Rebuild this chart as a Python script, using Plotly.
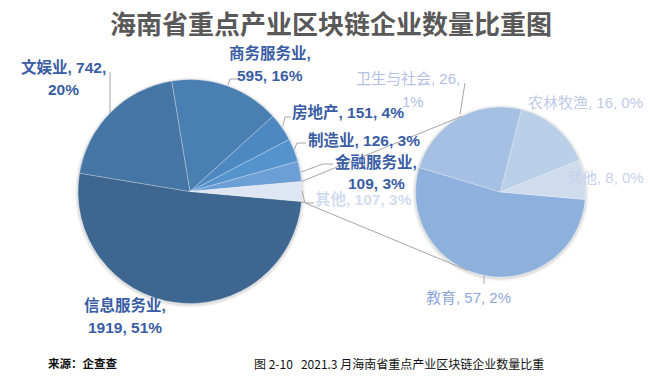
import math
import plotly.graph_objects as go

W, H = 648, 379

# ---- data ----
main_labels = ["信息服务业", "文娱业", "商务服务业", "房地产", "制造业", "金融服务业", "其他"]
main_values = [1919, 742, 595, 151, 126, 109, 107]
sub_labels = ["教育", "卫生与社会", "农林牧渔", "其他"]
sub_values = [57, 26, 16, 8]

main_colors = ["#3d6790", "#4475a4", "#4a7fb2", "#4d88c0", "#5593cd", "#6c9fd5", "#dde6f2"]
sub_colors = ["#8db1dc", "#a5c0e3", "#bacfe8", "#cedcee"]

total = sum(main_values)

# ---- geometry (pixels) ----
MC, MR = (190, 191.5), 112
SC, SR = (500.5, 192), 85


def px(x):
    return x / W


def py(y):
    return 1 - y / H


other_half = main_values[-1] / total * 180
main_rot = 90 + other_half

fig = go.Figure()
fig.add_trace(go.Pie(
    labels=main_labels, values=main_values, sort=False, direction="clockwise",
    rotation=main_rot, textinfo="none", hoverinfo="label+value+percent",
    marker=dict(colors=main_colors, line=dict(color="rgba(255,255,255,0.45)", width=0.6)),
    domain=dict(x=[px(MC[0] - MR), px(MC[0] + MR)], y=[py(MC[1] + MR), py(MC[1] - MR)]),
    showlegend=False,
))
fig.add_trace(go.Pie(
    labels=sub_labels, values=sub_values, sort=False, direction="clockwise",
    rotation=95, textinfo="none", hoverinfo="label+value",
    marker=dict(colors=sub_colors, line=dict(color="rgba(255,255,255,0.45)", width=0.6)),
    domain=dict(x=[px(SC[0] - SR), px(SC[0] + SR)], y=[py(SC[1] + SR), py(SC[1] - SR)]),
    showlegend=False,
))

shapes = []
LC = "#a6a6a6"

# soft shadows under the pies
for (cx, cy), r in ((MC, MR), (SC, SR)):
    for k, alpha in ((3.5, 0.05), (2, 0.07)):
        shapes.append(dict(type="circle", xref="paper", yref="paper", layer="below",
                           x0=px(cx - r - k + 0.5), x1=px(cx + r + k - 0.5),
                           y0=py(cy + r + k + 0.5), y1=py(cy - r - k + 1.5),
                           fillcolor=f"rgba(0,0,0,{alpha})", line=dict(width=0)))


def seg(pts, color=LC):
    path = "M " + " L ".join(f"{px(x)},{py(y)}" for x, y in pts)
    shapes.append(dict(type="path", path=path, xref="paper", yref="paper",
                       line=dict(color=color, width=1), layer="above"))


# connector lines between the pies
a = math.radians(other_half)
p_top = (MC[0] + MR * math.cos(a), MC[1] - MR * math.sin(a))
p_bot = (MC[0] + MR * math.cos(a), MC[1] + MR * math.sin(a))
t_ang, b_ang = math.radians(117), math.radians(247)
s_top = (SC[0] + SR * math.cos(t_ang), SC[1] - SR * math.sin(t_ang))
s_bot = (SC[0] + SR * math.cos(b_ang), SC[1] - SR * math.sin(b_ang))
seg([p_top, s_top])
seg([p_bot, s_bot])

# leader lines
seg([(110, 113), (110, 72)])
seg([(228, 85), (230, 79), (238, 79)])
seg([(283, 126), (285, 117), (291, 117)])
seg([(294, 150), (297, 143), (306, 143)])
seg([(301, 172), (323, 164), (333, 164)])
seg([(302, 191), (305, 203), (314, 203)])
seg([(460, 114), (465, 83)])
seg([(484, 276), (484, 284)])

fig.update_layout(shapes=shapes)

# ---- labels ----
FONT = "Liberation Sans, Arial, Noto Sans CJK SC, sans-serif"
MAIN_TXT = "#3a5da5"


def label_text(name, v, tmpl):
    pct = round(v / total * 100)
    return tmpl.format(n=name, v=v, p=pct)


main_tmpl = ["{n},\n{v}, {p}%", "{n}, {v},\n{p}%", "{n},\n{v}, {p}%", "{n}, {v}, {p}%",
             "{n}, {v}, {p}%", "{n},\n{v}, {p}%", "{n}, {v}, {p}%"]
# per-line centre positions (pixels)
main_pos = [[(125, 305), (125, 327.5)], [(63, 67), (63, 89.5)], [(270, 53), (270, 75)],
            [(348, 112)], [(364, 140)], [(376, 162), (376, 183.5)], [(363, 199.5)]]
main_lc = [MAIN_TXT] * 6 + ["#d3ddef"]

sub_tmpl = ["{n}, {v}, {p}%", "{n}, {v},\n{p}%", "{n}, {v}, {p}%", "{n}, {v}, {p}%"]
sub_pos = [[(468, 297)], [(408, 79), (413, 101)], [(585, 102)], [(605, 178)]]
sub_lc = ["#8fa8d9", "#b3c0e3", "#bfcae7", "#c8d2ec"]

ann = []


def add_label(text, poss, color, bold, size):
    for line, (x, y) in zip(text.split("\n"), poss):
        t = f"<b>{line}</b>" if bold else line
        ann.append(dict(text=t, x=px(x), y=py(y), xref="paper", yref="paper",
                        showarrow=False, xanchor="center", yanchor="middle",
                        font=dict(family=FONT, size=size, color=color)))


for n, v, t, p, c in zip(main_labels, main_values, main_tmpl, main_pos, main_lc):
    add_label(label_text(n, v, t), p, c, True, 15.5)
for n, v, t, p, c in zip(sub_labels, sub_values, sub_tmpl, sub_pos, sub_lc):
    add_label(label_text(n, v, t), p, c, False, 15)

ann.append(dict(text="<b>海南省重点产业区块链企业数量比重图</b>", x=px(331), y=py(23), xref="paper", yref="paper",
                showarrow=False, xanchor="center", yanchor="middle",
                font=dict(family="Noto Sans CJK SC", size=26, color="#595959")))
ann.append(dict(text="<b>来源：企查查</b>", x=px(46), y=py(363), xref="paper", yref="paper",
                showarrow=False, xanchor="left", yanchor="middle",
                font=dict(family="Noto Sans CJK SC", size=11.5, color="#111111")))
ann.append(dict(text="图 2-10   2021.3 月海南省重点产业区块链企业数量比重", x=px(252), y=py(363),
                xref="paper", yref="paper", showarrow=False, xanchor="left", yanchor="middle",
                font=dict(family="Noto Sans CJK SC", size=12, color="#111111")))

fig.update_layout(
    width=W, height=H, margin=dict(l=0, r=0, t=0, b=0),
    paper_bgcolor="white", plot_bgcolor="white",
    annotations=ann,
)

fig.write_html("out.html", config={"displayModeBar": False},
               post_script="document.body.style.margin='0';")
